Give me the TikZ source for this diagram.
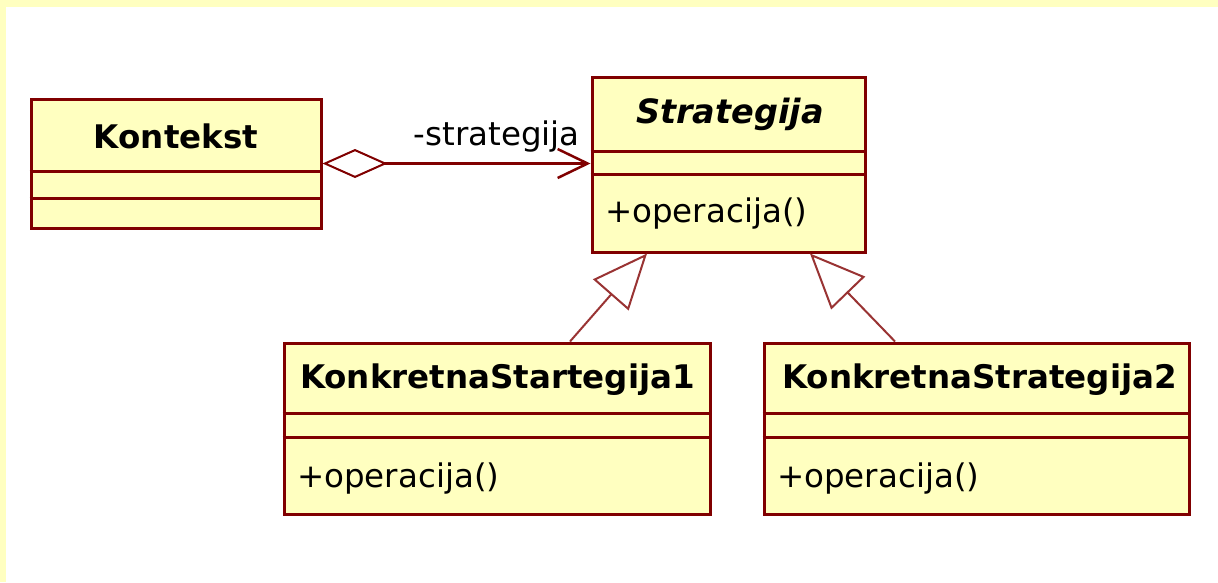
\documentclass[tikz,border=0pt]{standalone}
\usepackage{fontspec}
\setmainfont{DejaVu Sans}
\usetikzlibrary{arrows.meta,calc}
\definecolor{umlred}{HTML}{800000}
\definecolor{umlfill}{HTML}{FFFFC0}
\begin{document}
\begin{tikzpicture}[x=1pt,y=-1pt,
  cls/.style={draw=umlred, fill=umlfill, line width=3pt, inner sep=0pt},
  divider/.style={draw=umlred, line width=3pt},
  txt/.style={inner sep=0pt, anchor=base, font=\fontsize{32.5pt}{39pt}\selectfont},
  ttl/.style={txt, font=\fontsize{32.5pt}{39pt}\selectfont\bfseries},
  ttlabs/.style={txt, font=\fontsize{33.5pt}{39pt}\selectfont\bfseries\itshape},
  op/.style={txt, anchor=base west},
  assoc/.style={draw=umlred, line width=3pt,
    {Diamond[open,length=65pt,width=29pt,line width=2pt]}-{Straight Barb[length=30pt,width=29pt,line width=2.5pt]}},
  gen/.style={draw=umlred!80, line width=2pt, -{Triangle[open,length=55pt,width=47pt]}}
]
% canvas and frame strips
\useasboundingbox (0,0) rectangle (1218,582);
\fill[white] (0,0) rectangle (1218,582);
\fill[umlfill] (0,0) rectangle (1218,7);
\fill[umlfill] (0,0) rectangle (6,582);

% class boxes
\node[cls, minimum width=290pt, minimum height=129pt] (ctx) at (176,163.5) {};
\node[cls, minimum width=273pt, minimum height=175pt] (str) at (728.5,164.5) {};
\node[cls, minimum width=426pt, minimum height=171pt] (ks1) at (497,428.5) {};
\node[cls, minimum width=425pt, minimum height=171pt] (ks2) at (976.5,428.5) {};

% compartment dividers
\draw[divider] (ctx.west |- 0,171) -- (ctx.east |- 0,171);
\draw[divider] (ctx.west |- 0,198) -- (ctx.east |- 0,198);
\draw[divider] (str.west |- 0,151) -- (str.east |- 0,151);
\draw[divider] (str.west |- 0,174) -- (str.east |- 0,174);
\draw[divider] (ks1.west |- 0,413) -- (ks1.east |- 0,413);
\draw[divider] (ks1.west |- 0,437) -- (ks1.east |- 0,437);
\draw[divider] (ks2.west |- 0,413) -- (ks2.east |- 0,413);
\draw[divider] (ks2.west |- 0,437) -- (ks2.east |- 0,437);

% class names and operations
\node[ttl] (ctxname) at (176,148) {Kontekst};
\node[ttlabs] (strname) at (730,123) {Strategija};
\node[op] (strop) at (605,222) {+operacija()};
\node[ttl] (ks1name) at (497.5,388) {KonkretnaStartegija1};
\node[op] (ks1op) at (297,487) {+operacija()};
\node[ttl] (ks2name) at (979.5,388) {KonkretnaStrategija2};
\node[op] (ks2op) at (777,487) {+operacija()};

% aggregation with role name
\draw[assoc] (ctx.east) -- (ctx.east -| str.west);
\node[txt, anchor=base east] (role) at (580,145) {-strategija};

% generalizations
\draw[gen] ([xshift=287.5pt]ks1.north west) -- ([xshift=56.5pt]str.south west);
\draw[gen] ([xshift=132.5pt]ks2.north west) -- ([xshift=219.5pt]str.south west);
\end{tikzpicture}
\end{document}
